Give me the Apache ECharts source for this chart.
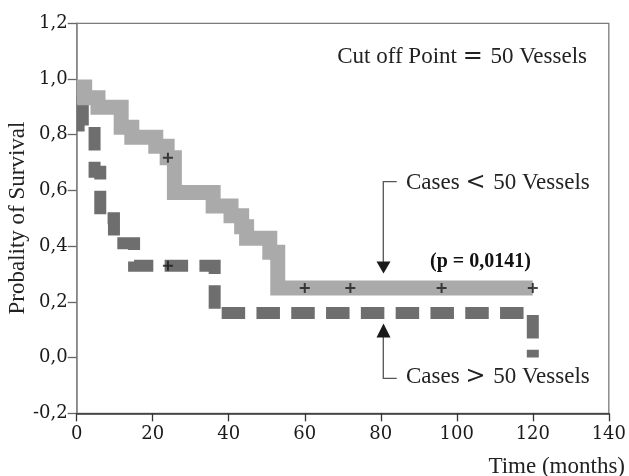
<!DOCTYPE html>
<html>
<head>
<meta charset="utf-8">
<script src="https://cdn.jsdelivr.net/npm/echarts@6/dist/echarts.min.js"></script>
<style>
html,body{margin:0;padding:0;background:#fff;}
#main{width:629px;height:476px;}
</style>
</head>
<body>
<div id="main"></div>
<script>
// ---- data ----
const xTicks = [0, 20, 40, 60, 80, 100, 120, 140];
const yTicks = [-0.2, 0.0, 0.2, 0.4, 0.6, 0.8, 1.0, 1.2];

// Cases < 50 Vessels (Kaplan-Meier step curve)
const lowTimes = [0, 2.1, 5.6, 11.7, 14.5, 20.8, 23.8, 25.7, 35.9, 40.6, 43.4, 44.7, 50.8, 52.9, 120];
const lowSurv  = [0.971, 0.933, 0.899, 0.827, 0.791, 0.759, 0.717, 0.593, 0.544, 0.509, 0.470, 0.428, 0.378, 0.250, 0.250];
const lowCensorT = [24, 60, 72, 96, 120];
const lowCensorS = [0.717, 0.25, 0.25, 0.25, 0.25];

// Cases > 50 Vessels
const highTimes = [0, 1.6, 4.7, 6.2, 9.8, 15.1, 36.3, 120];
const highSurv  = [0.97, 0.833, 0.667, 0.5, 0.41, 0.33, 0.16, 0.0];
const highCensorT = [24];
const highCensorS = [0.33];

const pText = '(p = 0,0141)';

// ---- chart ----
const chart = echarts.init(document.getElementById('main'), null, {renderer: 'canvas'});
const pair = (t, s) => t.map((v, i) => [v, s[i]]);
const plusPath = 'path://M4,0H6V4H10V6H6V10H4V6H0V4H4Z';
const serifA = 'Liberation Serif';
const serifT = 'DejaVu Serif';
const symRich = {s: {fontFamily: serifT, fontSize: 24, fill: '#222', padding: [0, 2, 0, 0]}};

chart.setOption({
  animation: false,
  backgroundColor: '#ffffff',
  grid: {left: 76.7, right: 12.3, top: 23.3, bottom: 62.7, show: true, borderColor: '#7a7a7a', borderWidth: 1.3},
  xAxis: {
    type: 'value', min: xTicks[0], max: xTicks[xTicks.length - 1], interval: 20,
    axisLine: {onZero: false, lineStyle: {color: '#333', width: 1.5}},
    axisTick: {show: true, length: 8, lineStyle: {color: '#333', width: 1.3}},
    axisLabel: {fontFamily: serifT, fontSize: 18, color: '#1a1a1a', margin: 12},
    splitLine: {show: false}
  },
  yAxis: {
    type: 'value', min: yTicks[0], max: yTicks[yTicks.length - 1], interval: 0.2,
    axisLine: {show: true, lineStyle: {color: '#888', width: 1.5}},
    axisTick: {show: true, length: 9, lineStyle: {color: '#666', width: 1.3}},
    axisLabel: {fontFamily: serifT, fontSize: 18, color: '#1a1a1a', margin: 9,
      formatter: v => v.toFixed(1).replace('.', ',')},
    splitLine: {show: false}
  },
  series: [
    {
      type: 'line', step: 'end', data: pair(highTimes, highSurv), symbol: 'none', z: 2,
      lineStyle: {color: '#6e6e6e', width: 12, type: [23.5, 11.3], dashOffset: 12.2, cap: 'butt', join: 'miter'}
    },
    {
      type: 'line', step: 'end', data: pair(lowTimes, lowSurv), symbol: 'none', z: 3,
      lineStyle: {color: '#aaaaaa', width: 15, type: 'solid', cap: 'butt', join: 'miter'}
    },
    {
      type: 'scatter', data: pair(lowCensorT, lowCensorS).concat(pair(highCensorT, highCensorS)),
      symbol: plusPath, symbolSize: 10, z: 5, itemStyle: {color: '#1a1a1a'}
    }
  ],
  graphic: [
    {type: 'text', x: 18, y: 218, rotation: Math.PI / 2,
      style: {text: 'Probality of Survival', fontFamily: serifA, fontSize: 23, fill: '#222', align: 'center', verticalAlign: 'middle'}},
    {type: 'text', x: 625, y: 467,
      style: {text: 'Time (months)', fontFamily: serifA, fontSize: 23, fill: '#222', align: 'right', verticalAlign: 'middle'}},
    {type: 'text', x: 587, y: 57,
      style: {text: 'Cut off Point {s|=} 50 Vessels', rich: symRich, fontFamily: serifA, fontSize: 23, fill: '#222', align: 'right', verticalAlign: 'middle'}},
    {type: 'text', x: 406, y: 183,
      style: {text: 'Cases {s|<} 50 Vessels', rich: symRich, fontFamily: serifA, fontSize: 23, fill: '#222', align: 'left', verticalAlign: 'middle'}},
    {type: 'text', x: 406, y: 377,
      style: {text: 'Cases {s|>} 50 Vessels', rich: symRich, fontFamily: serifA, fontSize: 23, fill: '#222', align: 'left', verticalAlign: 'middle'}},
    {type: 'text', x: 430, y: 262,
      style: {text: pText, fontFamily: serifA, fontWeight: 'bold', fontSize: 20, fill: '#111', align: 'left', verticalAlign: 'middle'}},
    {type: 'polyline', shape: {points: [[396.7, 181.7], [383.3, 181.7], [383.3, 262]]},
      style: {stroke: '#555', lineWidth: 1.3, fill: null}},
    {type: 'polygon', shape: {points: [[376.5, 261.5], [390.5, 261.5], [383.5, 273.5]]},
      style: {fill: '#1a1a1a'}},
    {type: 'polyline', shape: {points: [[383.3, 337], [383.3, 378.3], [396.7, 378.3]]},
      style: {stroke: '#555', lineWidth: 1.3, fill: null}},
    {type: 'polygon', shape: {points: [[376.5, 337.5], [390.5, 337.5], [383.5, 323.5]]},
      style: {fill: '#1a1a1a'}}
  ]
});
</script>
</body>
</html>
